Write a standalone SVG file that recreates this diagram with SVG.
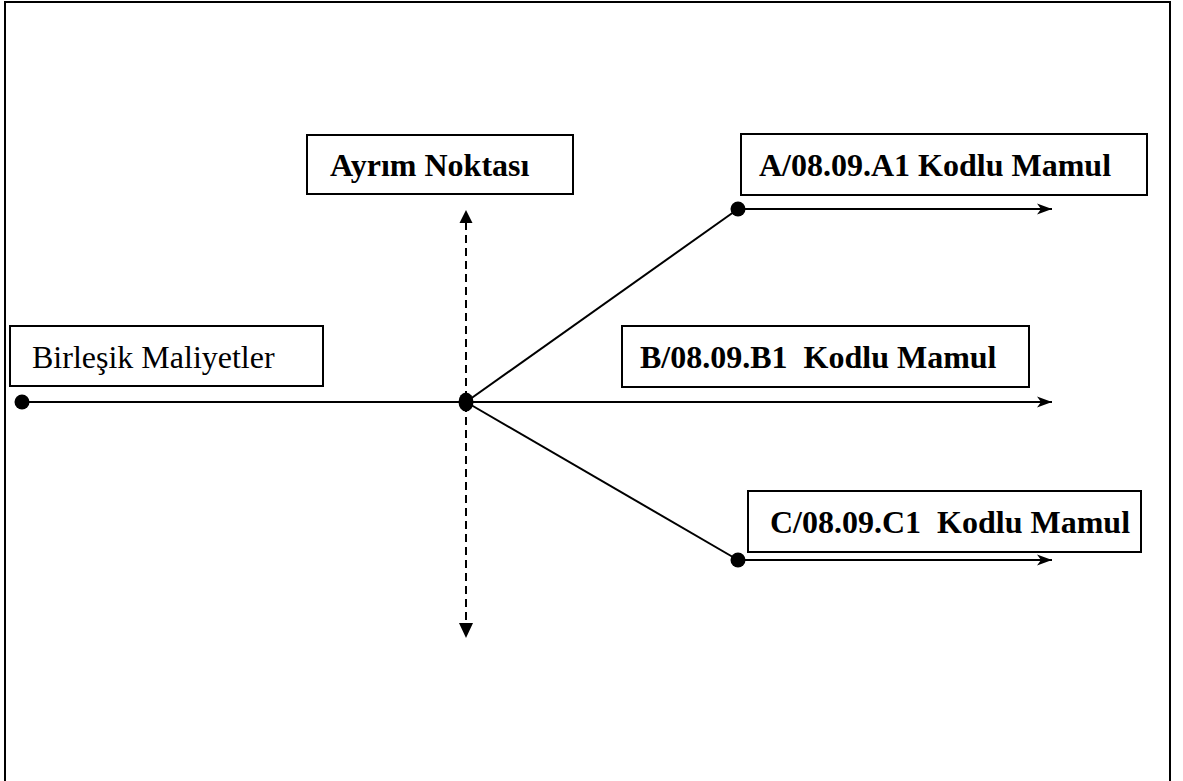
<svg xmlns="http://www.w3.org/2000/svg" width="1183" height="781" viewBox="0 0 1183 781">
  <style>
    .frame { fill: none; stroke: #000; stroke-width: 2; }
    .box { fill: #fff; stroke: #000; stroke-width: 2; }
    .lbl { font-family: "Liberation Serif", "Times New Roman", serif; font-size: 32px; fill: #000; white-space: pre; }
    .bold { font-weight: bold; }
    .line { fill: none; stroke: #000; stroke-width: 2; }
    .dash { fill: none; stroke: #000; stroke-width: 2; stroke-dasharray: 8 5; }
    .dot { fill: #000; }
  </style>
  <defs>
    <marker id="arrow" markerUnits="userSpaceOnUse" markerWidth="18" markerHeight="14" refX="15" refY="7" orient="auto">
      <path d="M0,1.5 L15,7 L0,12.5 L4,7 Z" fill="#000"/>
    </marker>
  </defs>

  <rect width="1183" height="781" fill="#fff"/>
  <!-- page frame (open at the bottom) -->
  <path class="frame" d="M5,790 L5,2 L1170,2 L1170,790"/>

  <g id="connectors">
    <!-- joint cost line into the split-off point -->
    <line class="line" x1="22" y1="402" x2="1052" y2="402" marker-end="url(#arrow)"/>
    <!-- branches -->
    <line class="line" x1="466" y1="402" x2="738" y2="209"/>
    <line class="line" x1="466" y1="402" x2="738" y2="560"/>
    <line class="line" x1="738" y1="209" x2="1052" y2="209" marker-end="url(#arrow)"/>
    <line class="line" x1="738" y1="560" x2="1052" y2="560" marker-end="url(#arrow)"/>
    <!-- split-off marker: dashed vertical, arrows both ways -->
    <line class="dash" x1="466" y1="222" x2="466" y2="624"/>
    <polygon class="dot" points="466,210 459.5,223 472.5,223"/>
    <polygon class="dot" points="466,638 459,623 473,623"/>
    <!-- points -->
    <circle class="dot" cx="22" cy="402" r="7.5"/>
    <ellipse class="dot" cx="466" cy="402" rx="7.5" ry="9.5"/>
    <circle class="dot" cx="738" cy="209" r="7.5"/>
    <circle class="dot" cx="738" cy="560" r="7.5"/>
  </g>

  <g id="node-joint">
    <rect class="box" x="10" y="326" width="313" height="60"/>
    <text class="lbl" x="32" y="368">Birleşik Maliyetler</text>
  </g>

  <g id="node-split">
    <rect class="box" x="307" y="135" width="266" height="59"/>
    <text class="lbl bold" x="330" y="176">Ayrım Noktası</text>
  </g>

  <g id="node-a">
    <rect class="box" x="741" y="134" width="406" height="61"/>
    <text class="lbl bold" x="759" y="176">A/08.09.A1 Kodlu Mamul</text>
  </g>

  <g id="node-b">
    <rect class="box" x="622" y="326" width="407" height="61"/>
    <text class="lbl bold" x="640" y="368">B/08.09.B1  Kodlu Mamul</text>
  </g>

  <g id="node-c">
    <rect class="box" x="748" y="491" width="393" height="61"/>
    <text class="lbl bold" x="770" y="533">C/08.09.C1  Kodlu Mamul</text>
  </g>
</svg>
